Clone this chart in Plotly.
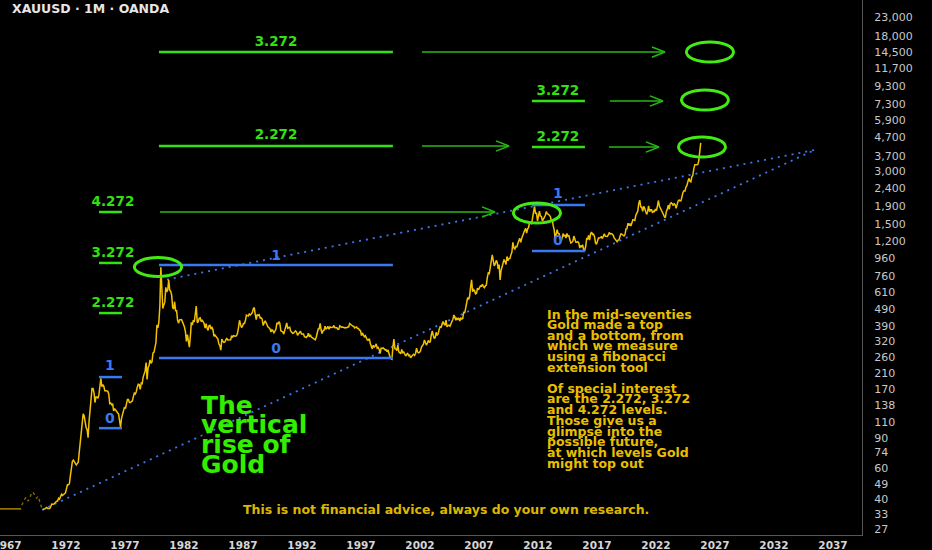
import plotly.graph_objects as go

# ---------------- data ----------------
# pre-1970 flat gold price and the 1968/69 free-market bump
pre_years = [1966.40, 1968.20]
pre_prices = [35.2, 35.2]
bump_years = [1968.25, 1968.45, 1968.6, 1968.8, 1969.0, 1969.2, 1969.35, 1969.5, 1969.65, 1969.8, 1969.95]
bump_prices = [37.0, 39.5, 41.0, 39.0, 42.0, 44.0, 42.0, 40.5, 41.5, 38.0, 35.5]

# monthly gold prices (USD/oz), Jan .. Dec of each year
gold_1970s = [
    34.9, 35.0, 35.2, 35.6, 35.9, 35.4, 35.3, 35.4, 36.2, 37.5, 37.4, 37.4,
    37.9, 38.7, 38.9, 39.0, 40.5, 40.1, 41.0, 42.7, 42.0, 42.5, 43.0, 43.5,
    45.8, 48.3, 48.3, 49.0, 54.6, 62.2, 65.7, 67.0, 65.5, 64.9, 62.9, 63.9,
    65.1, 74.2, 84.5, 90.5, 102.0, 123.0, 120.0, 106.0, 103.0, 100.0, 90.0, 112.0,
    129.0, 150.0, 172.0, 172.0, 163.0, 143.0, 154.0, 154.0, 151.0, 158.0, 181.0, 197.0,
    176.0, 181.0, 177.0, 167.0, 167.0, 166.0, 166.0, 160.0, 141.0, 142.0, 139.0, 140.0,
    128.0, 132.0, 129.0, 128.0, 125.0, 123.0, 112.0, 103.5, 116.0, 123.0, 130.0, 134.5,
    132.0, 142.0, 149.0, 149.0, 143.0, 143.0, 144.0, 146.0, 154.0, 162.0, 160.0, 164.9,
    175.0, 182.0, 181.0, 170.0, 184.0, 183.0, 200.0, 208.0, 217.0, 242.0, 194.0, 226.0,
    233.0, 251.0, 240.0, 245.0, 275.0, 277.0, 296.0, 315.0, 397.0, 382.0, 415.0, 512.0,
]
gold_1980s = [
    850.0, 637.0, 494.0, 518.0, 535.0, 653.0, 614.0, 631.0, 720.0, 629.0, 619.0, 589.0,
    500.0, 490.0, 540.0, 480.0, 480.0, 423.0, 407.0, 425.0, 428.0, 427.0, 414.0, 400.0,
    387.0, 363.0, 320.0, 350.0, 317.0, 297.0, 342.0, 411.0, 397.0, 423.0, 414.0, 456.0,
    510.0, 410.0, 415.0, 434.0, 437.0, 415.0, 423.0, 415.0, 405.0, 382.0, 405.0, 382.0,
    370.0, 394.0, 395.0, 377.0, 384.0, 374.0, 342.0, 348.0, 341.0, 333.0, 330.0, 309.0,
    303.0, 285.0, 330.0, 321.0, 316.0, 317.0, 327.0, 334.0, 326.0, 326.0, 325.0, 327.0,
    345.0, 339.0, 345.0, 343.0, 343.0, 345.0, 357.0, 385.0, 423.0, 401.0, 384.0, 390.0,
    405.0, 405.0, 421.0, 453.0, 451.0, 447.0, 462.0, 453.0, 460.0, 468.0, 492.0, 500.0,
    456.0, 426.0, 457.0, 450.0, 455.0, 436.0, 437.0, 430.0, 395.0, 412.0, 420.0, 410.0,
    393.0, 387.0, 383.0, 377.0, 362.0, 373.0, 368.0, 359.0, 366.0, 375.0, 409.0, 401.0,
]
gold_1990s = [
    415.0, 407.0, 368.0, 367.0, 363.0, 352.0, 372.0, 387.0, 408.0, 380.0, 384.0, 386.0,
    367.0, 363.0, 356.0, 357.0, 361.0, 368.0, 362.0, 347.0, 354.0, 358.0, 366.0, 353.0,
    354.0, 353.0, 341.0, 337.0, 337.0, 343.0, 357.0, 340.0, 349.0, 339.0, 334.0, 333.0,
    330.0, 327.0, 338.0, 355.0, 377.0, 378.0, 406.0, 372.0, 355.0, 369.0, 371.0, 391.0,
    378.0, 381.0, 390.0, 376.0, 388.0, 385.0, 384.0, 386.0, 395.0, 383.0, 383.0, 383.0,
    375.0, 376.0, 393.0, 389.0, 385.0, 387.0, 383.0, 382.0, 384.0, 383.0, 387.0, 387.0,
    405.0, 400.0, 396.0, 392.0, 391.0, 382.0, 385.0, 387.0, 379.0, 379.0, 371.0, 369.0,
    345.0, 358.0, 348.0, 340.0, 345.0, 334.0, 326.0, 325.0, 332.0, 311.0, 296.0, 290.0,
    304.0, 297.0, 301.0, 310.0, 293.0, 296.0, 288.0, 273.0, 293.0, 292.0, 294.0, 288.0,
    287.0, 287.0, 279.0, 286.0, 268.0, 261.0, 255.0, 253.0, 299.0, 330.0, 291.0, 290.0,
]
gold_2000s = [
    283.0, 305.0, 279.0, 274.0, 272.0, 288.0, 276.0, 278.0, 273.0, 264.0, 270.0, 273.0,
    265.0, 267.0, 258.0, 264.0, 267.0, 270.0, 266.0, 273.0, 293.0, 279.0, 275.0, 277.0,
    282.0, 297.0, 302.0, 308.0, 326.0, 318.0, 305.0, 313.0, 324.0, 317.0, 318.0, 347.0,
    367.0, 347.0, 334.0, 336.0, 361.0, 346.0, 354.0, 375.0, 388.0, 386.0, 398.0, 416.0,
    402.0, 396.0, 424.0, 388.0, 394.0, 396.0, 391.0, 408.0, 416.0, 429.0, 453.0, 438.0,
    423.0, 434.0, 428.0, 436.0, 418.0, 437.0, 430.0, 433.0, 473.0, 465.0, 495.0, 513.0,
    569.0, 556.0, 582.0, 654.0, 720.0, 616.0, 633.0, 624.0, 599.0, 604.0, 646.0, 632.0,
    650.0, 665.0, 663.0, 680.0, 659.0, 650.0, 666.0, 673.0, 743.0, 789.0, 783.0, 834.0,
    923.0, 1000.0, 916.0, 865.0, 885.0, 930.0, 912.0, 833.0, 880.0, 720.0, 815.0, 870.0,
    928.0, 942.0, 916.0, 883.0, 980.0, 927.0, 955.0, 955.0, 1001.0, 1040.0, 1182.0, 1096.0,
]
gold_2010s = [
    1081.0, 1118.0, 1113.0, 1180.0, 1207.0, 1244.0, 1181.0, 1248.0, 1307.0, 1357.0, 1386.0, 1421.0,
    1333.0, 1410.0, 1439.0, 1556.0, 1536.0, 1500.0, 1628.0, 1826.0, 1900.0, 1722.0, 1746.0, 1564.0,
    1737.0, 1780.0, 1668.0, 1664.0, 1561.0, 1604.0, 1622.0, 1687.0, 1772.0, 1719.0, 1713.0, 1675.0,
    1663.0, 1579.0, 1596.0, 1472.0, 1393.0, 1234.0, 1313.0, 1396.0, 1327.0, 1323.0, 1250.0, 1202.0,
    1244.0, 1326.0, 1284.0, 1295.0, 1250.0, 1327.0, 1282.0, 1287.0, 1216.0, 1171.0, 1182.0, 1199.0,
    1283.0, 1212.0, 1183.0, 1184.0, 1190.0, 1172.0, 1095.0, 1134.0, 1115.0, 1142.0, 1065.0, 1060.0,
    1118.0, 1238.0, 1233.0, 1293.0, 1215.0, 1321.0, 1351.0, 1309.0, 1316.0, 1273.0, 1173.0, 1151.0,
    1211.0, 1249.0, 1249.0, 1268.0, 1269.0, 1242.0, 1269.0, 1322.0, 1280.0, 1271.0, 1275.0, 1303.0,
    1345.0, 1318.0, 1325.0, 1315.0, 1298.0, 1253.0, 1224.0, 1201.0, 1192.0, 1215.0, 1222.0, 1282.0,
    1321.0, 1313.0, 1292.0, 1284.0, 1305.0, 1409.0, 1413.0, 1520.0, 1472.0, 1512.0, 1464.0, 1517.0,
]
gold_2020s = [
    1589.0, 1585.0, 1577.0, 1687.0, 1730.0, 1781.0, 1975.0, 2060.0, 1886.0, 1879.0, 1777.0, 1898.0,
    1848.0, 1734.0, 1707.0, 1769.0, 1907.0, 1770.0, 1814.0, 1813.0, 1743.0, 1783.0, 1774.0, 1829.0,
    1797.0, 1909.0, 2050.0, 1897.0, 1837.0, 1807.0, 1766.0, 1711.0, 1660.0, 1633.0, 1769.0, 1824.0,
    1928.0, 1827.0, 1969.0, 1990.0, 1962.0, 1919.0, 1965.0, 1940.0, 1849.0, 1983.0, 2036.0, 2063.0,
    2039.0, 2044.0, 2230.0, 2286.0, 2327.0, 2326.0, 2447.0, 2503.0, 2635.0, 2744.0, 2643.0, 2624.0,
    2798.0, 2858.0, 3124.0, 3289.0, 3289.0, 3303.0, 3290.0, 3448.0, 3858.0, 4380.0,
]
series_start_year = 1970

# right-axis tick labels
y_ticks = [27, 33, 40, 49, 60, 74, 90, 110, 138, 170, 210, 260, 320, 390, 490, 610, 760,
           960, 1200, 1500, 1900, 2400, 3000, 3700, 4700, 5900, 7300, 9300, 11700, 14500,
           18000, 23000]
x_ticks = [1967, 1972, 1977, 1982, 1987, 1992, 1997, 2002, 2007, 2012, 2017, 2022, 2027, 2032, 2037]

# fibonacci extension drawings (years, prices)
blue_levels = [  # (x0, x1, price)
    (1974.80, 1976.75, 200), (1974.80, 1976.75, 102),
    (1979.88, 1999.71, 876), (1979.88, 1999.71, 257),
    (2011.49, 2015.98, 1932), (2011.49, 2015.98, 1054),
]
blue_labels = [  # (x, price, text)
    (1975.73, 231, "1"), (1975.73, 115, "0"),
    (1989.80, 986, "1"), (1989.80, 289, "0"),
    (2013.69, 2205, "1"), (2013.69, 1202, "0"),
]
green_levels = [
    (1974.80, 1976.75, 1761), (1974.80, 1976.75, 900), (1974.80, 1976.75, 465),
    (1979.88, 1999.71, 14500), (1979.88, 1999.71, 4204),
    (2011.49, 2015.98, 7609), (2011.49, 2015.98, 4150),
]
green_labels = [
    (1975.98, 1983, "4.272"), (1975.98, 1013, "3.272"), (1975.98, 524, "2.272"),
    (1989.80, 16343, "3.272"), (1989.80, 4799, "2.272"),
    (2013.69, 8566, "3.272"), (2013.69, 4672, "2.272"),
]
green_arrows = [  # (x_start, x_tip, price)
    (2002.17, 2022.76, 14500),
    (2002.17, 2009.54, 4204),
    (1979.97, 2008.36, 1761),
    (2018.10, 2022.59, 7609),
    (2018.02, 2022.25, 4150),
]
green_circles = [  # (x0, x1, p0, p1)
    (1977.80, 1981.80, 753, 967),
    (2009.92, 2013.91, 1524, 1983),
    (2023.91, 2027.89, 3637, 4734),
    (2024.16, 2028.14, 6758, 8795),
    (2024.58, 2028.57, 12725, 16565),
]
trend_lines = [  # dotted blue (x0, p0, x1, p1)
    (1979.97, 710, 2035.45, 3990),
    (1969.97, 34.7, 2035.45, 3990),
]

desc_block1 = ["In the mid-seventies", "Gold made a top", "and a bottom, from",
               "which we measure", "using a fibonacci", "extension tool"]
desc_block2 = ["Of special interest", "are the 2.272, 3.272", "and 4.272 levels.",
               "Those give us a", "glimpse into the", "possible future,",
               "at which levels Gold", "might top out"]
big_title = ["The", "vertical", "rise of", "Gold"]

# ---------------- figure ----------------
FONT = "DejaVu Sans"
GOLD = "#f2c200"
GREEN = "#33e012"
GREEN_ARROW = "#27b814"
BLUE = "#3a78f0"

W, H = 932, 550
ML, MR, MT, MB = 0, 70, 0, 15
PW, PH = W - ML - MR, H - MT - MB

gold_all = gold_1970s + gold_1980s + gold_1990s + gold_2000s + gold_2010s + gold_2020s
gold_t = [series_start_year + (i + 0.5) / 12 for i in range(len(gold_all))]

fig = go.Figure()

fig.add_trace(go.Scatter(x=pre_years, y=pre_prices, mode="lines",
                         line=dict(color="#a88400", width=1.5), hoverinfo="skip"))
fig.add_trace(go.Scatter(x=bump_years, y=bump_prices, mode="lines",
                         line=dict(color="#8a6c00", width=1.3, dash="dot"), hoverinfo="skip"))

shapes = []
for x0, p0, x1, p1 in trend_lines:
    shapes.append(dict(type="line", xref="x", yref="y", x0=x0, y0=p0, x1=x1, y1=p1,
                       line=dict(color=BLUE, width=1.8, dash="2px,5px"), layer="below"))
for x0, x1, p in blue_levels:
    shapes.append(dict(type="line", xref="x", yref="y", x0=x0, x1=x1, y0=p, y1=p,
                       line=dict(color=BLUE, width=2.5)))
for x0, x1, p in green_levels:
    shapes.append(dict(type="line", xref="x", yref="y", x0=x0, x1=x1, y0=p, y1=p,
                       line=dict(color=GREEN, width=2.5)))
for xs, xt, p in green_arrows:
    shapes.append(dict(type="line", xref="x", yref="y", x0=xs, x1=xt, y0=p, y1=p,
                       line=dict(color=GREEN_ARROW, width=1.5)))
for x0, x1, p0, p1 in green_circles:
    shapes.append(dict(type="circle", xref="x", yref="y", x0=x0, x1=x1, y0=p0, y1=p1,
                       line=dict(color="#44ea14", width=3)))

# arrow heads (open chevrons)
for xs, xt, p in green_arrows:
    fig.add_trace(go.Scatter(x=[xt - 1.1, xt, xt - 1.1], y=[p * 1.07, p, p / 1.07],
                             mode="lines", line=dict(color=GREEN_ARROW, width=1.5),
                             hoverinfo="skip"))

# price line
fig.add_trace(go.Scatter(x=gold_t, y=gold_all, mode="lines",
                         line=dict(color=GOLD, width=1.5), hoverinfo="skip"))

# fib labels
fig.add_trace(go.Scatter(x=[b[0] for b in blue_labels], y=[b[1] for b in blue_labels],
                         text=[b[2] for b in blue_labels], mode="text",
                         textfont=dict(family=FONT, size=14, color=BLUE, weight="bold"),
                         hoverinfo="skip"))
fig.add_trace(go.Scatter(x=[g[0] for g in green_labels], y=[g[1] for g in green_labels],
                         text=[g[2] for g in green_labels], mode="text",
                         textfont=dict(family=FONT, size=13.5, color=GREEN, weight="bold"),
                         hoverinfo="skip"))

annotations = []


def px_ann(text, x_px, y_px, size, color, anchor="left", bold=True):
    annotations.append(dict(
        text=text, xref="paper", yref="paper",
        x=(x_px - ML) / PW, y=1 - (y_px - MT) / PH,
        xanchor=anchor, yanchor="middle", showarrow=False,
        font=dict(family=FONT, size=size, color=color, weight="bold" if bold else "normal")))


px_ann("XAUUSD · 1M · OANDA", 10, 9, 12.5, "#e6e6e6")

for i, line in enumerate(big_title):
    px_ann(line, 199, 405 + i * 19.7, 25, "#33ee00")

for i, line in enumerate(desc_block1):
    px_ann(line, 545, 314 + i * 10.6, 12.5, "#e8bf00")
for i, line in enumerate(desc_block2):
    px_ann(line, 545, 388 + i * 10.75, 12.5, "#e8bf00")

px_ann("This is not financial advice, always do your own research.", 446, 509, 12.5,
       "#dcb600", anchor="center")

fig.update_layout(
    width=W, height=H,
    margin=dict(l=ML, r=MR, t=MT, b=MB),
    paper_bgcolor="#000000", plot_bgcolor="#000000",
    showlegend=False, hovermode=False,
    shapes=shapes, annotations=annotations,
    xaxis=dict(range=[1966.41, 2039.46], tickvals=x_ticks, ticktext=[str(v) for v in x_ticks],
               showgrid=False, zeroline=False, showline=True, linecolor="#555555",
               linewidth=1, ticks="", ticklabeloverflow="allow", automargin=False,
               tickfont=dict(family=FONT, size=10.5, color="#d6d6d6", weight="bold")),
    yaxis=dict(type="log", side="right", range=[1.39702, 4.45941], tickvals=y_ticks,
               ticktext=[f"{v:,}" for v in y_ticks], showgrid=False, zeroline=False,
               showline=True, linecolor="#555555", linewidth=1, ticks="",
               ticklabelstandoff=9, automargin=False,
               tickfont=dict(family=FONT, size=11, color="#c8c8c8")),
)

fig.write_html("out.html", config={"displayModeBar": False},
               post_script="document.body.style.margin='0px';document.body.style.overflow='hidden';")
